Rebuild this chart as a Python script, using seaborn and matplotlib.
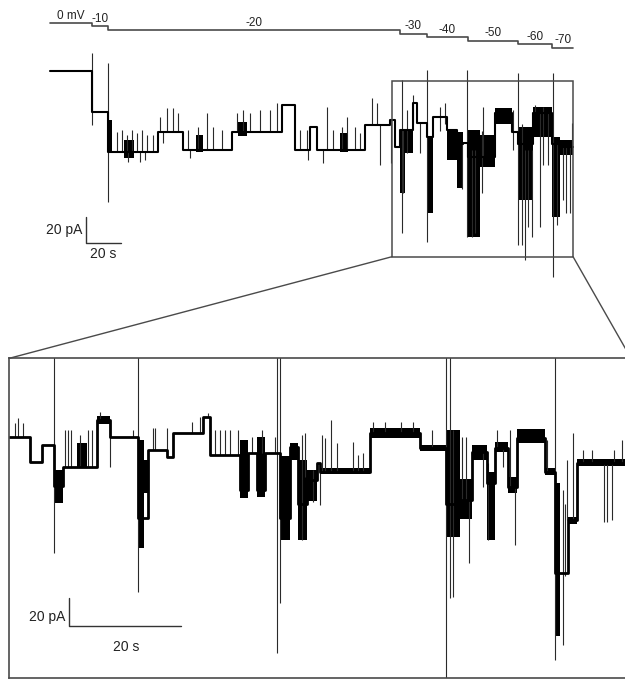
import matplotlib
matplotlib.use("Agg")
import matplotlib.pyplot as plt
import pandas as pd
import seaborn as sns
from matplotlib.patches import Rectangle, ConnectionPatch

sns.set_theme(style="white")
plt.rcParams['font.family'] = ['Liberation Sans', 'DejaVu Sans']

# ---------------- voltage protocol (time in s, mV) ----------------
volt_start = [0, 24, 33.1, 200, 215.4, 238.9, 267.4, 286.9]
volt_level = [0, -10, -20, -30, -40, -50, -60, -70]
volt_end = 298.9
volt_labels = ["0 mV", "-10", "-20", "-30", "-40", "-50", "-60", "-70"]

# ---------------- full recording (time in s, current in pA) ----------------
top_seg_start = [0, 24, 33.1, 61.7, 76, 104, 132.6, 140, 148.6, 152.6, 180, 194.3, 197,
                 200, 207.4, 209.7, 215.4, 218.9, 226.9, 232.6, 236, 238.9, 245.7, 254.3,
                 264, 267.4, 276, 286.9, 291.4]
top_seg_level = [60.4, 29.5, -1.3, 14.1, 0, 14.1, 34.6, 0, 17.9, 0, 19.2, 23.1, 2.5,
                 15.4, 36.2, 20.8, 10, 25.4, 15.4, 5, 5.4, -5.4, -5.4, 28.5,
                 13.8, 5, 28.5, 5, 2.3]
top_end = 298.9

top_burst_t0 = [33.1, 42.3, 83.4, 107.4, 165.7, 200, 203, 215.4, 226.9, 232.6, 238.9,
                245.7, 254.3, 267.4, 276, 286.9, 291.4]
top_burst_t1 = [35.5, 48, 87.4, 112.6, 170.3, 203, 207.4, 218.9, 232.6, 236, 245.7,
                254.3, 264, 276, 286.9, 291.4, 298.9]
top_burst_lo = [-2.3, -6.2, -1.5, 10.8, -1.5, -33, -2.3, -48.5, -7.7, -29.2, -66.9,
                -13.1, 20, -38.5, 10, -51.5, -4]
top_burst_hi = [23, 7.7, 11.5, 21.5, 13.1, 15.4, 15.4, 10, 15.4, 13.8, 15.4,
                11.5, 32, 17.7, 33, 10, 8]

top_spike_t = [23.8, 33.1,
               38.1, 41, 43.8, 46.7, 49.5, 52.4, 55.2, 59, 44.5, 51.4, 54.3,
               62.9, 64.8, 66.7, 70.5, 73.3,
               79, 80, 84.8, 89.5, 93.3, 98.1,
               106.7, 110.5, 114.3, 120, 125.7, 129.5,
               142.9, 146.7, 147.6, 156.2, 158.1, 161.9, 166.7, 169.5, 174.3, 177.1,
               183.8, 186.7, 188.6,
               195, 201, 201.5, 203.8, 207.4, 211.4, 215.4, 222.9, 225.7, 235.2, 238.3,
               241, 242.9, 246.7, 247.6, 264.8, 267.4, 269.5, 271.4, 273.3, 275.2, 277,
               280, 281.9, 284.8, 287.4, 289.5, 293, 294.9, 297.1, 298.1]
top_spike_lo = [19.2, -39.8,
                -1.3, -1.3, -1.3, -1.3, -1.3, -1.3, -1.3, -1.3, -9, -9, -7.7,
                14.1, 5.4, 14.1, 14.1, 14.1,
                0, -6.2, 0, 0, 0, 0,
                14.1, 14.1, 14.1, 14.1, 14.1, 14.1,
                0, 0, -7.7, -10, 0, 0, 0, 0, 0, 0,
                19.2, 19.2, -11.5,
                -10, -63.8, -33, -2.3, 20, -2.3, -70.8, 15, 20, -30, -66.9,
                -66.9, -63.8, -33, -5, 0, -73.1, -73, -84.6, -59, -66.9, 28.5,
                -59, -11.5, -11.5, -97.7, -57.7, -38.5, -48.5, -48.5, 2.3]
top_spike_hi = [74.6, 66.9,
                13.8, 15.4, 11.5, 15.4, 13.1, 15.4, 11.5, 11.5, -1.3, -1.3, -1.3,
                25.4, 14.1, 32.3, 32.3, 28.5,
                15.4, 0, 17.7, 28.5, 17.7, 15.4,
                28.5, 30.8, 28.5, 30.8, 30.8, 36.2,
                15.4, 15.4, 0, 0, 33.3, 15.4, 17.7, 25.6, 17.7, 13.1,
                40, 36.2, 19.2,
                23.1, 53.8, 15.4, 30.8, 42.3, 20.8, 61.5, 33, 36.2, 5, 61.5,
                0, 0, 15, 33, 30.8, 59.2, 20, 0, 0, 0, 34.6,
                28.5, 33, 28.5, 59.2, 5, 2.3, 2.3, 2.3, 20.8]

# ---------------- expanded segment (time in s, current in pA) ----------------
bot_seg_start = [0, 3.7, 5.8, 7.9, 9.6, 15.6, 18, 22.9, 24.8, 28.1, 29.3, 34.6, 35.8,
                 41.2, 42.6, 44.2, 45.7, 48.3, 50.1, 51.6, 53.1, 54.9, 55.5, 64.4, 73.3,
                 77.9, 80.5, 82.6, 85.3, 86.7, 89.1, 90.6, 95.7, 97.5, 99.8, 101.3]
bot_seg_level = [-1.2, -19.3, -7.2, -37, -22.9, 10.8, -1.2, -60, -10.8, -15.7, 1.2, 13.2,
                 -14.4, -40, -13, -40, -13, -60, -8.4, -50, -32.5, -20.4, -26.5, 1.2,
                 -9.6, -50, -46.9, -12.1, -35, -9.6, -37.3, -2.4, -26.5, -100, -61.4, -20.4]
bot_end = 112

bot_burst_t0 = [7.9, 12, 15.6, 22.9, 24.0, 41.2, 44.2, 48.3, 50.1, 51.6, 53.1, 55.5, 64.4,
                73.3, 77.9, 80.5, 82.6, 85.3, 86.7, 89.1, 90.6, 95.7, 97.6, 99.8, 101.3]
bot_burst_t1 = [9.6, 13.8, 18, 24.0, 24.8, 42.6, 45.7, 50.1, 51.6, 53.1, 54.9, 64.4, 73.3,
                77.9, 80.5, 82.6, 85.3, 86.7, 89.1, 90.6, 95.7, 97.5, 98.4, 101.3, 112]
bot_burst_lo = [-49.1, -22.9, 8, -81.8, -41.9, -45.5, -44.5, -75.8, -18, -75.8, -48, -28.5,
                -2.5, -11.5, -73.4, -61, -18, -75.8, -12.5, -42, -6, -29, -145, -64, -22.5]
bot_burst_hi = [-25.3, -5.8, 14, -3.6, -18, -3.6, -1.2, -15, -5.8, -18, -25, -24,
                5, -7, 3.6, -32, -7, -27, -5, -30, 4, -24, -35, -59, -17.5]

bot_spike_t = [1.0, 1.6, 2.5, 7.9, 9.9, 10.5, 11.1, 12.6, 14.1, 14.7, 16.2, 17.9, 22.1, 22.9,
               25.7, 26.0, 28.1, 32.6, 34.1, 35.5, 36.7, 37.6, 38.5, 39.4, 40.9,
               43.3, 45.1, 47.4, 47.8, 48.3, 52.2, 52.8, 54.2, 55.5,
               55.8, 56.4, 57.4, 58.5, 61.4, 62.3, 63.2, 65, 67, 70, 72, 75.4,
               77.9, 78.7, 79.2, 80.8, 81.6, 82.0, 84.6, 85.5, 87.0, 88.2, 89.4, 90.3,
               96.0, 97.5, 98.9, 99.3, 99.6, 100.6,
               102.5, 104, 106.1, 106.7, 107.6, 108, 109.4]
bot_spike_lo = [-1.2, -1.2, -1.2, -85.4, -22.9, -22.9, -22.9, -22.9, -22.9, -22.9, 10.8, -22.9, -1.2, -113.1,
                -10.8, -10.8, -15.7, 1.2, 1.2, 13.2, -14.4, -14.4, -14.4, -14.4, -14.4,
                -13, -13, -13, -157.6, -121.3, -75.8, -30, -48.2, -50.5,
                -26.5, -26.5, -26.5, -26.5, -26.5, -26.5, -26.5, 1.2, 1.2, 1.2, 1.2, -9.6,
                -190, -117.7, -116.8, -46.9, -46.9, -92.4, -37.3, -75.8, -9.6, -22.9, -37.3, -79.4,
                -26.5, -162.5, -151.6, -102, -61.4, -61.4,
                -20.4, -20.4, -62.6, -62.6, -61.4, -20.4, -20.4]
bot_spike_hi = [9, 12.3, 9, 80, 3.6, 3.6, 3.6, 0, 3.6, 3.6, 16.8, 10.8, 3.6, 80,
                5.1, 5.1, 5.1, 9.6, 13.2, 16, 3.6, 3.6, 3.6, 3.6, 3.6,
                -1.2, 3.6, -1.2, 80, 80, 0, 1.2, -25, -20.4,
                0, -2.2, 10.8, -5.8, -4.8, -14.4, -13, 9.6, 9.6, 9.6, 9.6, 3.6,
                80, 80, 3.6, -1.2, -1.2, -46.9, -12.1, -20, 3.6, -9.6, 3.6, -37.3,
                -3.6, 80, -40, -50, -18, 1.2,
                -10.8, -10.8, -20.4, -20.4, -20.4, -10.8, -3.6]

SCALE_T = 20   # s
SCALE_I = 20   # pA

# ---------------- figure ----------------
W, H = 625, 680
fig = plt.figure(figsize=(W / 100, H / 100), dpi=100)
fig.patch.set_facecolor("white")


def px_axes(x0, y0, x1, y1):
    return fig.add_axes([x0 / W, 1 - y1 / H, (x1 - x0) / W, (y1 - y0) / H])


def draw_trace(ax, seg_start, seg_level, end, sp_t, sp_lo, sp_hi, b_t0, b_t1, b_lo, b_hi, lw):
    for a, b, lo, hi in zip(b_t0, b_t1, b_lo, b_hi):
        ax.fill_between([a, b], [lo, lo], [hi, hi], color="black", linewidth=0)
    ax.vlines(sp_t, sp_lo, sp_hi, color="#2a2a2a", linewidth=0.8)
    df = pd.DataFrame({"t": list(seg_start) + [end],
                       "I": list(seg_level) + [seg_level[-1]]})
    sns.lineplot(data=df, x="t", y="I", ax=ax, drawstyle="steps-post", estimator=None,
                 sort=False, color="black", linewidth=lw, legend=False)


VOLT_KW = dict(fontsize=8.5, color="#222222")
SCALE_KW = dict(fontsize=10, color="#222222")

# top trace axes
ax_top = px_axes(0, 0, 625, 300)
ax_top.set_xlim(-28.571, 328.571)
ax_top.set_ylim(-115.4, 115.4)
ax_top.axis("off")
draw_trace(ax_top, top_seg_start, top_seg_level, top_end,
           top_spike_t, top_spike_lo, top_spike_hi,
           top_burst_t0, top_burst_t1, top_burst_lo, top_burst_hi, 1.5)

# zoom box
box_t0, box_t1, box_lo, box_hi = 195.4, 298.9, -82.1, 53.3
ax_top.add_patch(Rectangle((box_t0, box_lo), box_t1 - box_t0, box_hi - box_lo,
                           fill=False, edgecolor="#4a4a4a", linewidth=1.1, zorder=5))

# top scale bar
sx, sy = 20.4, -71.3
ax_top.plot([sx, sx, sx + SCALE_T], [sy + SCALE_I, sy, sy], color="#333333", linewidth=1)
ax_top.text(sx - 2.0, sy + 10.0, f"{SCALE_I} pA", ha="right", va="center", **SCALE_KW)
ax_top.text(sx + 10.2, sy - 8.7, f"{SCALE_T} s", ha="center", va="center", **SCALE_KW)

# voltage protocol axes
ax_v = px_axes(0, 0, 625, 60)
ax_v.set_xlim(-28.571, 328.571)
ax_v.set_ylim(-105.7, 65.7)
ax_v.axis("off")
ax_v.patch.set_alpha(0)
vdf = pd.DataFrame({"t": volt_start + [volt_end], "V": volt_level + [volt_level[-1]]})
sns.lineplot(data=vdf, x="t", y="V", ax=ax_v, drawstyle="steps-post", estimator=None,
             sort=False, color="#4a4a4a", linewidth=1.2, legend=False)
ends = volt_start[1:] + [volt_end]
for s, e, v, lab in zip(volt_start, ends, volt_level, volt_labels):
    ax_v.text((s + e) / 2, v + 3, lab, ha="center", va="bottom", **VOLT_KW)

# expanded axes
ax_bot = px_axes(9.3, 358.3, 631, 678)
ax_bot.set_xlim(0, 111.0)
ax_bot.set_ylim(-175.5, 55.4)
ax_bot.set_xticks([])
ax_bot.set_yticks([])
for side in ["left", "top", "bottom"]:
    ax_bot.spines[side].set_visible(True)
    ax_bot.spines[side].set_color("#4a4a4a")
    ax_bot.spines[side].set_linewidth(1.2)
ax_bot.spines["right"].set_visible(False)
draw_trace(ax_bot, bot_seg_start, bot_seg_level, bot_end,
           bot_spike_t, bot_spike_lo, bot_spike_hi,
           bot_burst_t0, bot_burst_t1, bot_burst_lo, bot_burst_hi, 2.0)
ax_bot.set_xlabel("")
ax_bot.set_ylabel("")

# bottom scale bar
bx, by = 10.7, -137.9
ax_bot.plot([bx, bx, bx + SCALE_T], [by + SCALE_I, by, by], color="#333333", linewidth=1)
ax_bot.text(bx - 0.7, by + 6.7, f"{SCALE_I} pA", ha="right", va="center", **SCALE_KW)
ax_bot.text(bx + 10.1, by - 15.0, f"{SCALE_T} s", ha="center", va="center", **SCALE_KW)

# connector lines
for xa, xb in [(box_t0, 0), (box_t1, 1)]:
    con = ConnectionPatch(xyA=(xa, box_lo), coordsA=ax_top.transData,
                          xyB=(xb, 1), coordsB=ax_bot.transAxes,
                          color="#4a4a4a", linewidth=1.0)
    fig.add_artist(con)

fig.savefig("out.png", dpi=100, facecolor="white")
